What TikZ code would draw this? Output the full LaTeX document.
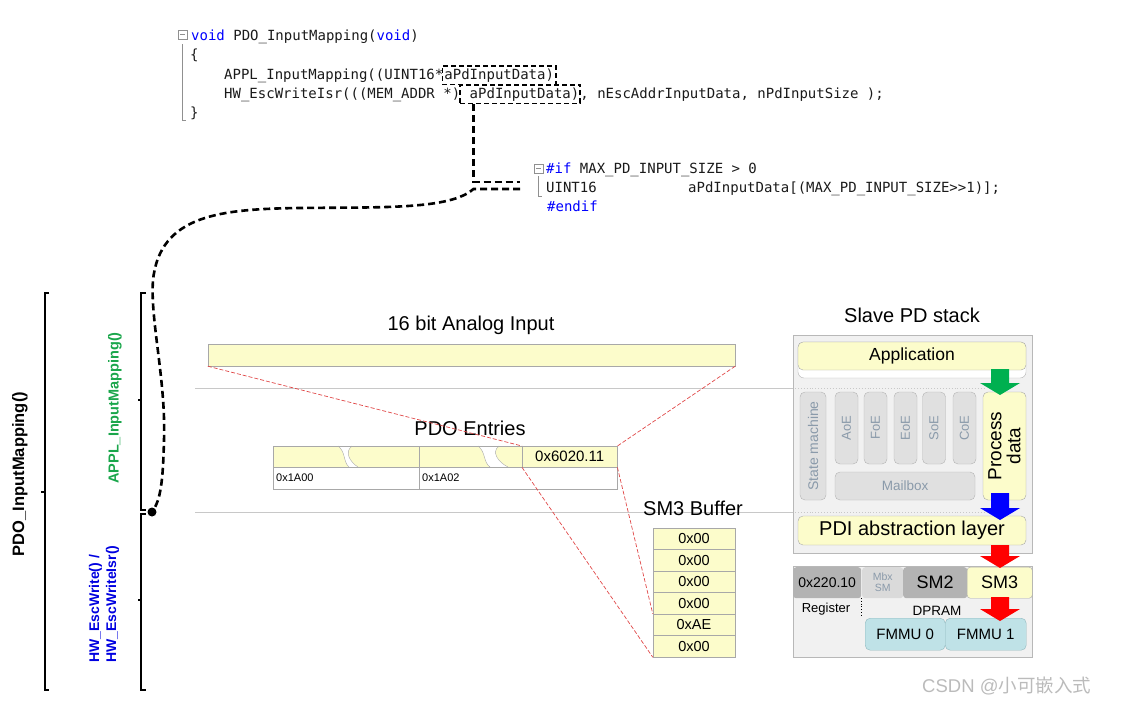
\documentclass[tikz,border=0pt]{standalone}
\usepackage{fontspec}
\setmainfont{Liberation Sans}
\setmonofont{DejaVu Sans Mono}
\newfontfamily\cjkfont{Noto Sans CJK SC}
\definecolor{kwblue}{HTML}{0000FF}
\definecolor{codeblack}{HTML}{1A1A1A}
\definecolor{foldgray}{HTML}{909090}
\definecolor{yfill}{HTML}{FCFCCB}
\definecolor{cellbord}{HTML}{A8A8A8}
\definecolor{lgray}{HTML}{C8C8C8}
\definecolor{reddash}{HTML}{E04848}
\definecolor{sbg}{HTML}{F1F1F1}
\definecolor{sbord}{HTML}{B8B8B8}
\definecolor{gfill}{HTML}{E0E0E0}
\definecolor{gbord}{HTML}{B4B4B4}
\definecolor{gtext}{HTML}{8A9AAA}
\definecolor{dgray}{HTML}{B3B3B3}
\definecolor{mgray}{HTML}{DADADA}
\definecolor{ffill}{HTML}{BFE2E7}
\definecolor{fbord}{HTML}{90B8BE}
\definecolor{agreen}{HTML}{00B050}
\definecolor{ablue}{HTML}{0000FF}
\definecolor{ared}{HTML}{FF0000}
\definecolor{lgreen}{HTML}{1AA64B}
\definecolor{lblue}{HTML}{0000E0}
\definecolor{wm}{HTML}{BBBBBB}
\newcommand{\barrow}[4]{\fill[#1] (#2-9,#3) -- (#2+9,#3) -- (#2+9,#4-12) -- (#2+20,#4-12) -- (#2,#4) -- (#2-20,#4-12) -- (#2-9,#4-12) -- cycle;}
\begin{document}
\begin{tikzpicture}[x=1pt,y=-1pt,
  code/.style={font=\fontsize{14}{16}\ttfamily, inner sep=0pt, anchor=base west, text=codeblack},
  vbox/.style={code, draw=black, line width=1.8pt, dash pattern=on 5pt off 3pt, inner xsep=2pt, inner ysep=2.5pt},
  conn/.style={line width=2.6pt, dash pattern=on 7pt off 4pt},
  title/.style={font=\fontsize{20}{24}\selectfont, inner sep=0pt},
  bracket/.style={line width=1.1pt},
  grayline/.style={draw=lgray, line width=0.9pt},
  reddl/.style={draw=reddash, line width=0.7pt, dash pattern=on 4pt off 2pt},
  cell/.style={draw=cellbord, fill=yfill, minimum width=82, minimum height=21.5, inner sep=0pt, font=\fontsize{14.5}{16}\selectfont},
  ybox/.style={draw=cellbord, fill=yfill, rounded corners=5pt, inner sep=0pt},
  gbox/.style={draw=gbord, fill=gfill, rounded corners=5pt, inner sep=0pt, text=gtext},
  fbox/.style={draw=fbord, fill=ffill, rounded corners=5pt, inner sep=0pt, font=\fontsize{15}{17}\selectfont},
  small/.style={font=\fontsize{11}{13}\selectfont, inner sep=0pt}
]
\useasboundingbox (0,0) rectangle (1123,704);

% ---------- code block 1 ----------
\draw[foldgray] (178,30) rectangle (187,39);
\draw[foldgray] (180,34.5) -- (185,34.5);
\draw[foldgray] (182.5,44) -- (182.5,120) -- (186,120);
\node[code] (l1) at (191,40) {\textcolor{kwblue}{void} PDO\_InputMapping(\textcolor{kwblue}{void})};
\node[code] (l2) at (190,59) {\{};
\node[code] (l3) at (224,79) {APPL\_InputMapping((UINT16*};
\node[vbox, anchor=base west] (v1) at ([xshift=-2pt]l3.base east) {aPdInputData)};
\node[code] (l4a) at (224,98) {HW\_EscWriteIsr(((MEM\_ADDR *)};
\node[vbox, anchor=base west, inner xsep=1pt] (v2) at ([xshift=-1pt]l4a.base east) {~aPdInputData)};
\node[code] (l4c) at ([xshift=-1pt]v2.base east) {, nEscAddrInputData, nPdInputSize );};
\node[code] (l5) at (190,117) {\}};

% ---------- code block 2 ----------
\draw[foldgray] (534,164) rectangle (543,173);
\draw[foldgray] (536,168.5) -- (541,168.5);
\draw[foldgray] (538.5,176) -- (538.5,196) -- (542,196);
\node[code] (m1) at (546,173) {\textcolor{kwblue}{\#if} MAX\_PD\_INPUT\_SIZE > 0};
\node[code] (m2) at (546,192) {UINT16};
\node[code] (m3) at (688,192) {aPdInputData[(MAX\_PD\_INPUT\_SIZE>{}>1)];};
\node[code] (m4) at (547,211) {\textcolor{kwblue}{\#endif}};

% ---------- connector ----------
\coordinate (c1) at ([xshift=14pt]v2.south west);
\coordinate (c2a) at (520,182);
\coordinate (c2b) at (520,189);
\coordinate (dot) at (152,512);
\draw[conn] (c1) |- (c2a);
\draw[conn] (c2b) -- (c1 |- c2b) .. controls (450,210) and (380,207) .. (300,208)
  .. controls (220,209) and (160,215) .. (153,280)
  .. controls (150,320) and (166,380) .. (164,440)
  .. controls (163,480) and (161,500) .. (dot);
\fill (dot) circle (4.5);

% ---------- left brackets and labels ----------
\draw[bracket] (49,293) -- (45,293) -- (45,690) -- (49,690);
\draw[bracket] (45,492) -- (41,492);
\draw[bracket] (146,293) -- (141,293) -- (141,510) -- (146,510);
\draw[bracket] (141,400) -- (138,400);
\draw[bracket] (146,514) -- (141,514) -- (141,690) -- (146,690);
\draw[bracket] (141,600) -- (138,600);
\node[rotate=90, font=\bfseries\fontsize{16.5}{19}\selectfont] (pdo) at (20,474) {PDO\_InputMapping()};
\node[rotate=90, font=\bfseries\fontsize{14.5}{17}\selectfont, text=lgreen] (appl) at (115,408) {APPL\_InputMapping()};
\node[rotate=90, anchor=west, align=left, font=\bfseries\fontsize{14}{17}\selectfont, text=lblue, inner sep=0pt] (hw) at (104,663) {HW\_EscWrite() /\\HW\_EscWriteIsr()};

% ---------- gray separator lines ----------
\draw[grayline] (195,388) -- (795,388);
\draw[grayline] (195,512) -- (795,512);

% ---------- 16 bit analog input ----------
\node[title] (ttl1) at (471,325) {16 bit Analog Input};
\node[draw=cellbord, fill=yfill, minimum width=527, minimum height=22, inner sep=0pt] (ai) at (471.5,355) {};

% ---------- PDO entries ----------
\node[title] (ttl2) at (470,428) {PDO Entries};
\fill[yfill] (273,446) rectangle (617,467);
\fill[white] (338,446) .. controls (346,452) and (343,462) .. (349,467) -- (358,467) .. controls (350,462) and (344,452) .. (352,446) -- cycle;
\fill[white] (478,446) .. controls (486,452) and (483,462) .. (490,467) -- (508,467) .. controls (498,462) and (491,452) .. (499,446) -- cycle;
\draw[cellbord] (338,446) .. controls (346,452) and (343,462) .. (349,467);
\draw[cellbord] (352,446) .. controls (344,452) and (350,462) .. (358,467);
\draw[cellbord] (478,446) .. controls (486,452) and (483,462) .. (490,467);
\draw[cellbord] (499,446) .. controls (491,452) and (498,462) .. (508,467);
\node[draw=cellbord, minimum width=146, minimum height=22, anchor=north west, inner sep=0pt] (e1) at (273,467) {};
\node[draw=cellbord, minimum width=198, minimum height=22, anchor=north west, inner sep=0pt] (e2) at (419,467) {};
\draw[cellbord] (273,446) -- (617,446) (273,446) -- (273,467) (419,446) -- (419,467);
\node[small, anchor=west] (e1t) at ([xshift=3pt]e1.west) {0x1A00};
\node[small, anchor=west] (e2t) at ([xshift=3pt]e2.west) {0x1A02};
\node[draw=cellbord, fill=yfill, minimum width=95, minimum height=21, anchor=north west, inner sep=0pt, font=\fontsize{15}{17}\selectfont] (cell) at (522,446) {0x6020.11};

% ---------- SM3 buffer ----------
\node[title] (ttl3) at (693,508) {SM3 Buffer};
\node[cell] (b1) at (694,538.75) {0x00};
\node[cell] (b2) at (694,560.25) {0x00};
\node[cell] (b3) at (694,581.75) {0x00};
\node[cell] (b4) at (694,603.25) {0x00};
\node[cell] (b5) at (694,624.75) {0xAE};
\node[cell] (b6) at (694,646.25) {0x00};

% ---------- red dashed mapping lines ----------
\draw[reddl] (ai.south west) -- (cell.north west);
\draw[reddl] (ai.south east) -- (cell.north east);
\draw[reddl] (cell.south west) -- (b6.south west);
\draw[reddl] (cell.south east) -- (b5.north west);

% ---------- Slave PD stack ----------
\node[title] (ttl4) at (912,315) {Slave PD stack};
\node[draw=sbord, fill=sbg, minimum width=239, minimum height=218, anchor=north west, inner sep=0pt] (stack) at (793,335) {};
\draw[grayline, dotted] (795,388) -- (985,388);
\draw[grayline, dotted] (795,512) -- (985,512);
\draw[draw=gbord, fill=white, rounded corners=6pt] (798,342) rectangle (1026,378);
\node[ybox, minimum width=228, minimum height=28, font=\fontsize{17.5}{20}\selectfont] (app) at (912,356) {Application};
\node[gbox, rotate=90, minimum width=108, minimum height=26, font=\fontsize{14}{16}\selectfont] (sm) at (813,446) {State machine};
\node[gbox, rotate=90, minimum width=72, minimum height=23, font=\fontsize{13}{15}\selectfont] (aoe) at (846.5,428) {AoE};
\node[gbox, rotate=90, minimum width=72, minimum height=23, font=\fontsize{13}{15}\selectfont] (foe) at (875.5,428) {FoE};
\node[gbox, rotate=90, minimum width=72, minimum height=23, font=\fontsize{13}{15}\selectfont] (eoe) at (905.5,428) {EoE};
\node[gbox, rotate=90, minimum width=72, minimum height=23, font=\fontsize{13}{15}\selectfont] (soe) at (934,428) {SoE};
\node[gbox, rotate=90, minimum width=72, minimum height=23, font=\fontsize{13}{15}\selectfont] (coe) at (964.5,428) {CoE};
\node[gbox, minimum width=140, minimum height=28, font=\fontsize{13.5}{15}\selectfont] (mb) at (905,486) {Mailbox};
\node[ybox, rotate=90, minimum width=108, minimum height=43, align=center, font=\fontsize{19}{19}\selectfont] (pd) at (1004.5,446) {Process\\data};
\node[ybox, minimum width=228, minimum height=29, font=\fontsize{20}{22}\selectfont] (pdi) at (912,530.5) {PDI abstraction layer};

% ---------- ESC memory ----------
\node[draw=sbord, fill=sbg, minimum width=239, minimum height=91, anchor=north west, inner sep=0pt] (esc) at (793,566) {};
\node[fill=dgray, rounded corners=3pt, minimum width=68, minimum height=31, anchor=north west, inner sep=0pt, font=\fontsize{14}{16}\selectfont] (reg) at (793,567) {0x220.10};
\node[fill=mgray, rounded corners=3pt, minimum width=41, minimum height=31, anchor=north west, inner sep=0pt, align=center, text=gtext, font=\fontsize{10.5}{11}\selectfont] (mbx) at (862,567) {Mbx\\SM};
\node[fill=dgray, rounded corners=3pt, minimum width=64, minimum height=31, anchor=north west, inner sep=0pt, font=\fontsize{18}{20}\selectfont] (sm2) at (903,567) {SM2};
\node[draw=cellbord, fill=yfill, rounded corners=3pt, minimum width=65, minimum height=31, anchor=north west, inner sep=0pt, font=\fontsize{18}{20}\selectfont] (sm3) at (967,567) {SM3};
\node[font=\fontsize{13}{15}\selectfont, inner sep=0pt] (regt) at (826,609) {Register};
\draw[black, dotted, line width=0.8pt] (861,598) -- (861,617);
\node[font=\fontsize{13.5}{15}\selectfont, inner sep=0pt] (dpram) at (937,611) {DPRAM};
\node[fbox, minimum width=80, minimum height=32, anchor=north west] (f0) at (865,618) {FMMU 0};
\node[fbox, minimum width=81, minimum height=32, anchor=north west] (f1) at (945,618) {FMMU 1};

% ---------- block arrows ----------
\barrow{agreen}{1000}{369}{395}
\barrow{ablue}{1000}{493}{520}
\barrow{ared}{1000}{545}{568}
\barrow{ared}{1000}{597}{621}

% ---------- watermark ----------
\node[font=\fontsize{18.5}{20}\selectfont, text=wm, anchor=base west, inner sep=0pt] (wmark) at (922,692) {CSDN @{\cjkfont 小可嵌入式}};
\end{tikzpicture}
\end{document}
